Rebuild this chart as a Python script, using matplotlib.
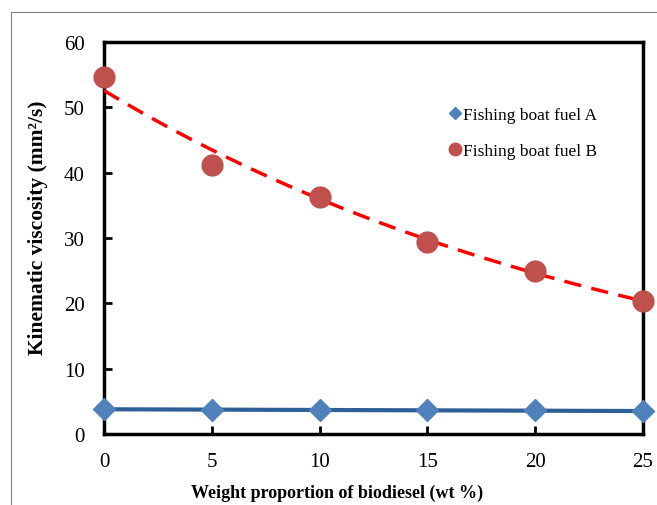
import matplotlib
matplotlib.use("Agg")
import matplotlib.pyplot as plt
import numpy as np
from matplotlib.patches import Rectangle

plt.rcParams['font.family'] = ['Liberation Serif', 'DejaVu Serif']

# data
blend_wt = [0, 5, 10, 15, 20, 25]
fuel_a = [3.8, 3.7, 3.7, 3.6, 3.6, 3.5]
fuel_b = [54.7, 41.2, 36.3, 29.4, 25.0, 20.4]

fig = plt.figure(figsize=(6.57, 5.06), dpi=100)
ax = fig.add_axes([104/657, 1-435/506, (643-104)/657, (435-43)/506])

# outer grey frame (partly off the page)
fig.patches.append(Rectangle((11/657, -0.1), 1.1, 1-13/506+0.1, transform=fig.transFigure,
                             fill=False, edgecolor='#7f7f7f', linewidth=0.8))

x = np.array(blend_wt, dtype=float)
xs = np.linspace(0, 25, 100)

# fuel A: linear trend line + diamond markers
pa = np.polyfit(x, fuel_a, 1)
ax.plot(xs, np.polyval(pa, xs), color='#2f5f97', lw=3, zorder=3, clip_on=False)
ax.plot(x, fuel_a, 'D', color='#4f81bd', ms=11, zorder=4, clip_on=False, ls='none',
        label='Fishing boat fuel A')

# fuel B: exponential trend line + circles
pb = np.polyfit(x, np.log(fuel_b), 1)
ax.plot(xs, np.exp(np.polyval(pb, xs)), color='red', lw=2.5, ls=(0, (5, 3)), zorder=3)
ax.plot(x, fuel_b, 'o', color='#c0504d', ms=15, zorder=4, clip_on=False, ls='none',
        label='Fishing boat fuel B')

ax.set_xlim(0, 25)
ax.set_ylim(0, 60)
ax.set_xticks(blend_wt)
ax.set_yticks(range(0, 61, 10))
ax.tick_params(direction='in', length=6, width=2, labelsize=15)
ax.tick_params(axis='x', pad=13)
ax.tick_params(axis='y', pad=14)
for s in ax.spines.values():
    s.set_linewidth(2.5)

ax.set_xlabel('Weight proportion of biodiesel (wt %)', fontsize=13, fontweight='bold')
ax.xaxis.set_label_coords((337-104)/539, -(493-435)/392)
ax.xaxis.label.set_va('center')
ax.set_ylabel('Kinematic viscosity (mm²/s)', fontsize=15.5, fontweight='bold')
ax.yaxis.set_label_coords(-(104-38)/539, (435-228)/392)
ax.yaxis.label.set_va('center')

leg = ax.legend(loc='upper left', bbox_to_anchor=(0.612, 0.875), frameon=False, fontsize=12.5,
                markerscale=0.6, handlelength=0.6, handletextpad=0.15, labelspacing=1.15)

plt.savefig('out.png', dpi=100)
